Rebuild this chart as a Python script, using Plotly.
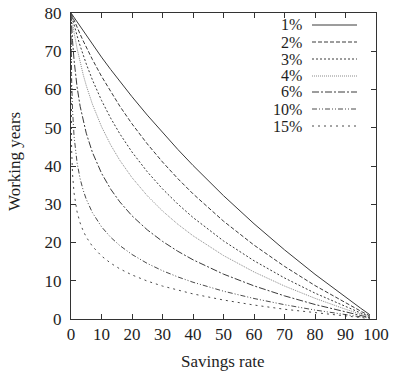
import plotly.graph_objects as go

# Savings rate (%) sample points
savings_rate = [0, 0.1, 0.2, 0.5, 1, 2, 3, 4, 5, 7, 10, 13, 16, 20, 25, 30, 35, 40,
                50, 60, 70, 80, 90, 95, 98]

# Working years for each rate of return
years_1 = [80, 79.88, 79.76, 79.39, 78.78, 77.58, 76.40, 75.22, 74.06, 71.78, 68.46, 65.24,
           62.13, 58.11, 53.31, 48.73, 44.35, 40.15, 32.24, 24.91, 18.08, 11.69, 5.67, 2.80, 1.11]
years_2 = [80, 79.80, 79.61, 79.03, 78.08, 76.23, 74.45, 72.72, 71.05, 67.88, 63.46, 59.40,
           55.64, 51.02, 45.79, 41.05, 36.72, 32.73, 25.58, 19.32, 13.76, 8.74, 4.18, 2.05, 0.81]
years_3 = [80, 79.67, 79.35, 78.41, 76.89, 74.04, 71.41, 68.97, 66.69, 62.55, 57.16, 52.52,
           48.43, 43.65, 38.50, 34.02, 30.07, 26.54, 20.41, 15.23, 10.73, 6.76, 3.21, 1.57, 0.62]
years_4 = [80, 79.44, 78.90, 77.33, 74.92, 70.69, 67.06, 63.88, 61.05, 56.20, 50.30, 45.52,
           41.49, 36.96, 32.23, 28.24, 24.79, 21.76, 16.59, 12.30, 8.62, 5.41, 2.56, 1.25, 0.49]
years_6 = [80, 78.29, 76.74, 72.77, 67.70, 60.61, 55.60, 51.73, 48.58, 43.61, 38.12, 33.96,
           30.62, 26.98, 23.31, 20.29, 17.72, 15.48, 11.73, 8.66, 6.05, 3.79, 1.79, 0.87, 0.34]
years_10 = [80, 68.31, 62.92, 54.62, 47.82, 40.80, 36.63, 33.65, 31.33, 27.83, 24.11, 21.37,
            19.20, 16.87, 14.53, 12.62, 11.01, 9.61, 7.27, 5.36, 3.74, 2.34, 1.10, 0.54, 0.21]
years_15 = [80, 49.32, 44.42, 37.89, 32.94, 27.99, 25.09, 23.03, 21.43, 19.03, 16.47, 14.60,
            13.11, 11.52, 9.92, 8.61, 7.51, 6.56, 4.96, 3.65, 2.55, 1.60, 0.75, 0.37, 0.14]

series_labels = ["1%", "2%", "3%", "4%", "6%", "10%", "15%"]
series_values = [years_1, years_2, years_3, years_4, years_6, years_10, years_15]

x_ticks = [0, 10, 20, 30, 40, 50, 60, 70, 80, 90, 100]
y_ticks = [0, 10, 20, 30, 40, 50, 60, 70, 80]

styles = [
    dict(color="#3a3a3a", dash="solid"),
    dict(color="#3a3a3a", dash="4px,2px"),
    dict(color="#3a3a3a", dash="2px,2px"),
    dict(color="#8a8a8a", dash="1px,1px"),
    dict(color="#3a3a3a", dash="7px,2px,2px,2px"),
    dict(color="#4a4a4a", dash="5px,2px,1px,2px,1px,2px"),
    dict(color="#4a4a4a", dash="2px,4px"),
]

FONT = "Liberation Serif, Times New Roman, serif"
TXT = "#1e1e1e"

fig = go.Figure()
for lab, vals, st in zip(series_labels, series_values, styles):
    fig.add_trace(go.Scatter(x=savings_rate, y=vals, mode="lines", name=lab,
                             line=dict(color=st["color"], dash=st["dash"], width=1),
                             showlegend=False))

W, H = 400, 374
L, R, T, B = 71, 24, 13, 55
pw, ph = W - L - R, H - T - B

def px_x(p):  # page pixel -> paper x
    return (p - L) / pw

def px_y(p):  # page pixel -> paper y
    return 1 - (p - T) / ph

# Manual legend (text on the left, line sample on the right, as in gnuplot)
row_px = [25, 42, 59, 76, 92, 109, 126]
for lab, st, ry in zip(series_labels, styles, row_px):
    yy = px_y(ry)
    fig.add_annotation(x=px_x(303), y=yy, xref="paper", yref="paper", text=lab,
                       showarrow=False, xanchor="right", yanchor="middle", borderpad=0,
                       font=dict(family=FONT, size=16, color=TXT))
    fig.add_shape(type="line", xref="paper", yref="paper", x0=px_x(312), x1=px_x(357),
                  y0=yy, y1=yy,
                  line=dict(color=st["color"], dash=st["dash"], width=1))

# Axis titles
fig.add_annotation(x=px_x(14), y=px_y(162), xref="paper", yref="paper",
                   text="Working years", textangle=-90, showarrow=False,
                   xanchor="center", yanchor="middle", borderpad=0,
                   font=dict(family=FONT, size=17, color=TXT))
fig.add_annotation(x=px_x(223), y=px_y(361), xref="paper", yref="paper",
                   text="Savings rate", showarrow=False,
                   xanchor="center", yanchor="middle", borderpad=0,
                   font=dict(family=FONT, size=17, color=TXT))

axis_common = dict(showline=True, mirror="ticks", ticks="inside", ticklen=5,
                   linecolor="#333", linewidth=1, tickcolor="#333",
                   showgrid=False, zeroline=False, automargin=False,
                   ticklabeloverflow="allow",
                   tickfont=dict(family=FONT, size=17, color=TXT))

fig.update_xaxes(range=[0, 100], tickvals=x_ticks, ticklabelstandoff=0, **axis_common)
fig.update_yaxes(range=[0, 80], tickvals=y_ticks, ticklabelstandoff=5, **axis_common)

fig.update_layout(width=W, height=H, margin=dict(l=L, r=R, t=T, b=B),
                  plot_bgcolor="white", paper_bgcolor="white",
                  font=dict(family=FONT, size=17, color=TXT))

# Remove the browser's default 8px body margin so the figure fills the window.
fig.write_html("out.html", config={"displayModeBar": False},
               post_script="document.body.style.margin='0px';")
